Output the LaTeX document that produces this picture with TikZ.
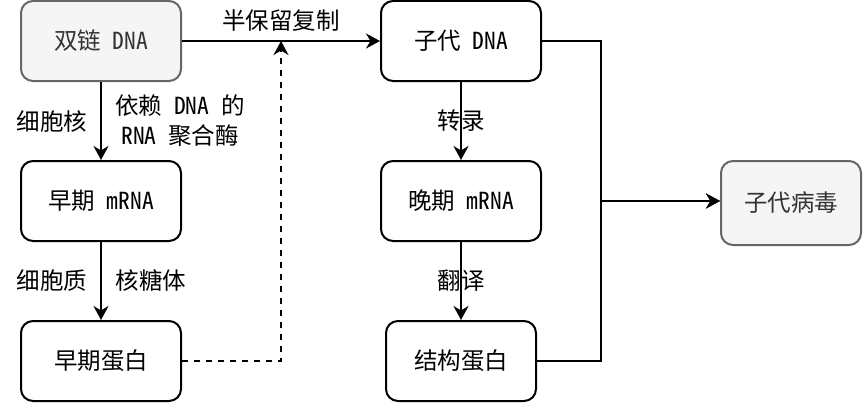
\documentclass[tikz,border=0pt]{standalone}
\usepackage{fontspec}
\setmainfont{Noto Sans Mono CJK SC}
\usetikzlibrary{arrows.meta}
\definecolor{grayline}{HTML}{666666}
\definecolor{grayfill}{HTML}{F5F5F5}
\definecolor{graytext}{HTML}{333333}
\begin{document}
\begin{tikzpicture}[x=1pt,y=-1pt,
  font=\fontsize{23.5}{30}\selectfont,
  box/.style={draw=black, line width=2pt, rounded corners=12pt, fill=white,
    minimum width=160pt, minimum height=80pt, inner sep=0pt, anchor=center},
  graybox/.style={box, draw=grayline, fill=grayfill, text=graytext},
  lbl/.style={inner sep=0pt, align=center},
  conn/.style={line width=2pt, -{Stealth[length=14pt,width=15pt,inset=4.5pt]}},
  dashconn/.style={conn, dash pattern=on 6pt off 6pt},
]
\useasboundingbox (0,0) rectangle (864,404);

\node[graybox] (dsdna) at (101,41) {双链 DNA};
\node[box] (dna) at (461,41) {子代 DNA};
\node[box] (emrna) at (101,201) {早期 mRNA};
\node[box] (lmrna) at (461,201) {晚期 mRNA};
\node[box] (eprot) at (101,361) {早期蛋白};
\node[box, minimum width=150pt] (sprot) at (461,361) {结构蛋白};
\node[graybox, minimum width=140pt, minimum height=84pt] (virus) at (791,203) {子代病毒};

\coordinate (m) at (281,41);
\coordinate (j) at (601,201);

\draw[conn] (dsdna) -- (dna);
\draw[conn] (dsdna) -- (emrna);
\draw[conn] (emrna) -- (eprot);
\draw[conn] (dna) -- (lmrna);
\draw[conn] (lmrna) -- (sprot);
\draw[dashconn] (eprot.east) -| (m);
\draw[conn] (dna.east) -| (j) -- (virus.west |- j);
\draw[conn] (sprot.east) -| (j) -- (virus.west |- j);

\node[lbl] (l1) at (281,21) {半保留复制};
\node[lbl] (l2) at (52,122) {细胞核};
\node[lbl] (l3) at (180,121) {依赖 DNA 的\\RNA 聚合酶};
\node[lbl] (l4) at (52,281) {细胞质};
\node[lbl] (l5) at (151,281) {核糖体};
\node[lbl] (l6) at (461,121) {转录};
\node[lbl] (l7) at (461,281) {翻译};
\end{tikzpicture}
\end{document}
